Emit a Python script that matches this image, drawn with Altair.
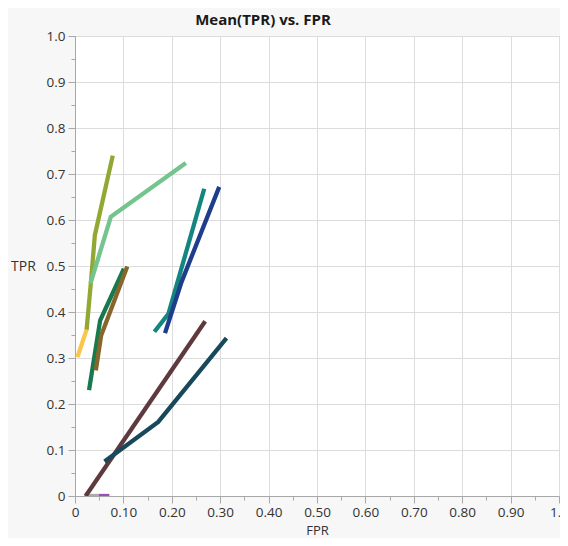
import altair as alt
import pandas as pd

# ---- data ----
series_names = ["gray", "purple", "yellow", "olive", "lightgreen", "darkgreen",
                "brown", "teal", "darkblue", "maroon", "darkteal"]
series_colors = ["#ABABAB", "#9B4FB5", "#F9C64A", "#92A834", "#74C48E", "#18794E",
                 "#86662B", "#15867F", "#1E3E8C", "#5E3A3F", "#17495A"]

fpr_gray = [0.019, 0.049]
tpr_gray = [0.0, 0.0]
fpr_purple = [0.049, 0.071]
tpr_purple = [0.0, 0.0]
fpr_yellow = [0.005, 0.025]
tpr_yellow = [0.302, 0.365]
fpr_olive = [0.024, 0.033, 0.041, 0.078]
tpr_olive = [0.362, 0.466, 0.567, 0.740]
fpr_lightgreen = [0.032, 0.074, 0.229]
tpr_lightgreen = [0.462, 0.607, 0.724]
fpr_darkgreen = [0.029, 0.052, 0.101]
tpr_darkgreen = [0.230, 0.382, 0.494]
fpr_brown = [0.043, 0.054, 0.108]
tpr_brown = [0.273, 0.349, 0.499]
fpr_teal = [0.164, 0.193, 0.267]
tpr_teal = [0.357, 0.396, 0.668]
fpr_darkblue = [0.186, 0.220, 0.298]
tpr_darkblue = [0.354, 0.465, 0.672]
fpr_maroon = [0.022, 0.269]
tpr_maroon = [0.0, 0.380]
fpr_darkteal = [0.061, 0.172, 0.313]
tpr_darkteal = [0.075, 0.161, 0.343]

series_fpr = [fpr_gray, fpr_purple, fpr_yellow, fpr_olive, fpr_lightgreen, fpr_darkgreen,
              fpr_brown, fpr_teal, fpr_darkblue, fpr_maroon, fpr_darkteal]
series_tpr = [tpr_gray, tpr_purple, tpr_yellow, tpr_olive, tpr_lightgreen, tpr_darkgreen,
              tpr_brown, tpr_teal, tpr_darkblue, tpr_maroon, tpr_darkteal]

chart_title = ["Mean(TPR) vs. FPR"]
tick_values = [round(i * 0.05, 2) for i in range(21)]

rows = []
for k, (name, xs, ys) in enumerate(zip(series_names, series_fpr, series_tpr)):
    for i, (x, y) in enumerate(zip(xs, ys)):
        rows.append({"series": name, "order": k, "idx": i, "FPR": x, "TPR": y})
df = pd.DataFrame(rows)

FONT = "Open Sans"
minor_test = "round(datum.value*20) % 2 == 1"

x_axis = alt.Axis(
    values=tick_values,
    labelExpr="round(datum.value*20) % 2 == 1 ? '' : (datum.value == 0 ? '0' : (datum.value == 1 ? '1.0' : format(datum.value, '.2f')))",
    labelOverlap=False,
    labelFlush=False,
    labelPadding=2,
    tickSize={"condition": {"test": minor_test, "value": 4}, "value": 7},
    gridOpacity={"condition": {"test": minor_test, "value": 0}, "value": 1},
    title="FPR",
    titleFontSize=13,
    titleBaseline="middle",
    titleY=34,
)
y_axis = alt.Axis(
    values=tick_values,
    labelExpr="round(datum.value*20) % 2 == 1 ? '' : (datum.value == 0 ? '0' : format(datum.value, '.1f'))",
    labelOverlap=False,
    labelFlush=False,
    tickSize={"condition": {"test": minor_test, "value": 4}, "value": 7},
    gridOpacity={"condition": {"test": minor_test, "value": 0}, "value": 1},
    title="TPR",
    titleAngle=0,
    titleAlign="center",
    titleBaseline="middle",
    titleX=-52,
    titleY=230,
)

lines = alt.Chart(df).mark_line(strokeWidth=4.3, strokeCap="butt", strokeJoin="miter", clip=True).encode(
    x=alt.X("FPR:Q", scale=alt.Scale(domain=[0, 1], nice=False), axis=x_axis),
    y=alt.Y("TPR:Q", scale=alt.Scale(domain=[0, 1], nice=False), axis=y_axis),
    color=alt.Color("series:N", scale=alt.Scale(domain=series_names, range=series_colors), legend=None),
    detail="series:N",
    order="idx:Q",
)

title_text = alt.Chart(pd.DataFrame({"t": chart_title})).mark_text(
    font=FONT, fontSize=15, fontWeight="bold", color="#1a1a1a", align="center", baseline="middle",
).encode(
    text="t:N",
    x=alt.value(188),
    y=alt.value(-16),
)

chart = alt.layer(lines, title_text).properties(
    width=484,
    height=460,
    autosize=alt.AutoSizeParams(type="none"),
    padding={"left": 67, "top": 28, "right": 1, "bottom": 42},
    background="#f7f7f7",
).configure_view(
    fill="white", stroke="#b8b8b8", strokeWidth=1,
).configure_axis(
    labelFont=FONT, labelFontSize=13.5, labelColor="#333333",
    titleFont=FONT, titleFontSize=14, titleColor="#333333", titleFontWeight="normal",
    gridColor="#dcdcdc", gridWidth=1,
    domainColor="#a8a8a8", tickColor="#a8a8a8",
    labelPadding=3,
)

chart.save("out.html", embed_options={"renderer": "svg", "actions": False})
